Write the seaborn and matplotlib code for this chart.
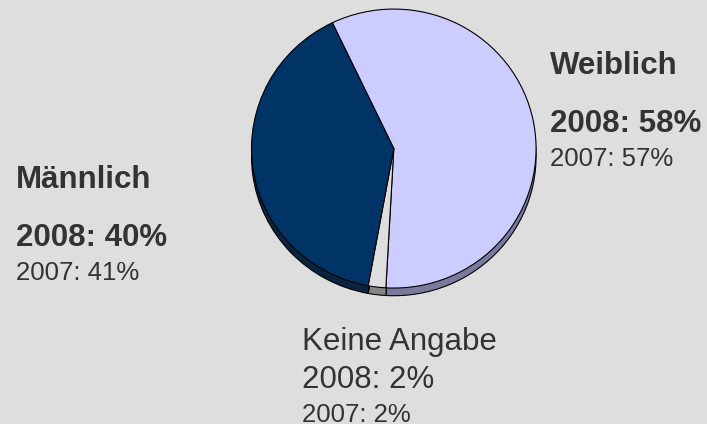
import matplotlib
matplotlib.use("Agg")
import matplotlib.pyplot as plt
import seaborn as sns

categories = ["Weiblich", "Keine Angabe", "Männlich"]
share_2008 = [58, 2, 40]
share_2007 = [57, 2, 41]
face_colors = ["#ccccff", "#dedede", "#003366"]
shadow_colors = ["#7a7a9c", "#858585", "#0a2440"]

BG = "#dedede"
TXT = "#333333"

sns.set_theme(style="white", rc={"figure.facecolor": BG, "axes.facecolor": BG})
plt.rcParams["font.family"] = ["Liberation Sans", "DejaVu Sans"]

W, H = 707, 424
fig = plt.figure(figsize=(W / 100, H / 100), dpi=100)
ax = fig.add_axes([244.4 / W, 1 - 302 / H, 298.8 / W, 299.9 / H])
ax.set_facecolor(BG)

start = 115.6
# 3D rim / shadow
ax.pie(share_2008, colors=shadow_colors, startangle=start, counterclock=False,
       center=(0, -0.055), radius=1.0,
       wedgeprops=dict(edgecolor="black", linewidth=0.8))
ax.pie(share_2008, colors=face_colors, startangle=start, counterclock=False,
       center=(0, 0), radius=1.0,
       wedgeprops=dict(edgecolor="black", linewidth=0.8))
ax.set_aspect("auto")
ax.set_xlim(-1.05, 1.05)
ax.set_ylim(-1.1, 1.05)
ax.axis("off")


def put(x, y, s, size, weight="normal"):
    fig.text(x / W, 1 - y / H, s, fontsize=size, fontweight=weight,
             color=TXT, ha="left", va="baseline")


# Weiblich
put(550, 74.5, categories[0], 22.5, "bold")
put(550, 132, f"2008: {share_2008[0]}%", 22.5, "bold")
put(550, 165.5, f"2007: {share_2007[0]}%", 18.5)

# Männlich
put(16, 188.5, categories[2], 22.5, "bold")
put(16, 246, f"2008: {share_2008[2]}%", 22.5, "bold")
put(16, 279.5, f"2007: {share_2007[2]}%", 18.5)

# Keine Angabe
put(302.5, 350, categories[1], 22.5)
put(302.5, 388, f"2008: {share_2008[1]}%", 22.5)
put(302.5, 421.5, f"2007: {share_2007[1]}%", 18.5)

fig.savefig("out.png", dpi=100, facecolor=BG)
